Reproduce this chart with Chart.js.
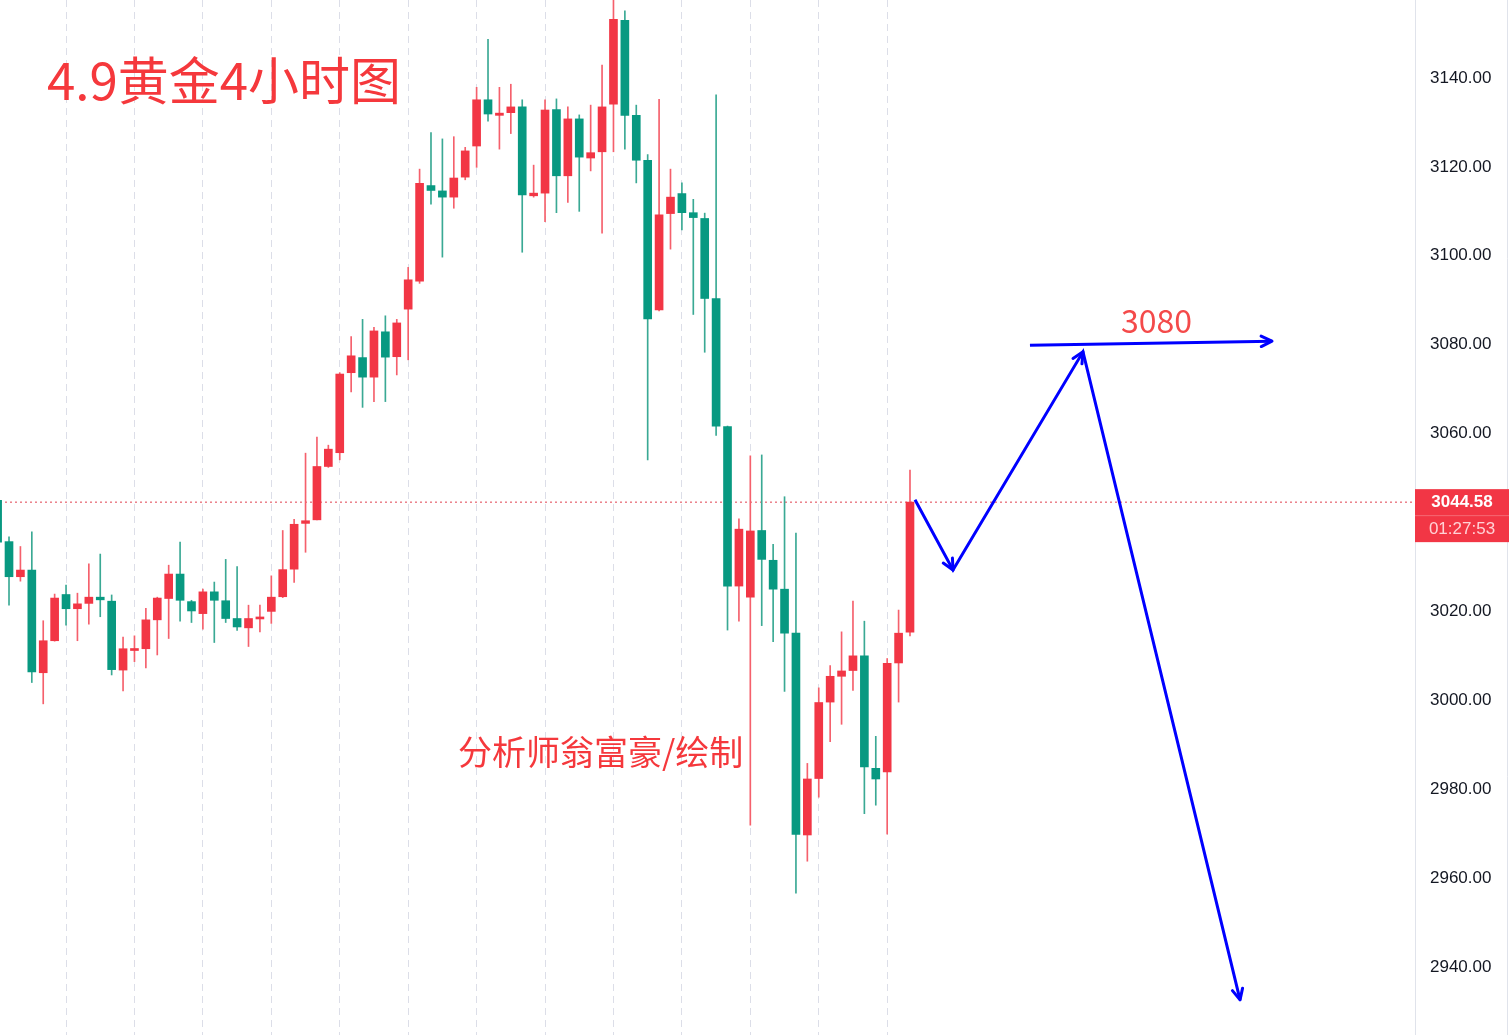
<!DOCTYPE html>
<html>
<head>
<meta charset="utf-8">
<title>4.9黄金4小时图</title>
<script src="https://cdn.jsdelivr.net/npm/chart.js@4.4.1/dist/chart.umd.min.js"></script>
<style>
  html, body { margin: 0; padding: 0; background: #ffffff; }
  #wrap { width: 1509px; height: 1035px; }
</style>
</head>
<body>
<div id="wrap"><canvas id="chart" width="1509" height="1035"></canvas></div>
<script>
// 4h candles (index 0 is the half-cut one on the left edge)
const opens = [
  3045.0, 3035.7, 3027.8, 3029.3, 3006.2, 3013.4, 3023.8, 3020.6, 3021.8, 3023.2,
  3022.3, 3006.8, 3011.2, 3011.6, 3018.1, 3022.9, 3028.4, 3022.2, 3019.5, 3024.4,
  3022.4, 3018.4, 3016.3, 3018.3, 3020.0, 3023.3, 3029.5, 3039.8, 3040.6, 3052.6,
  3055.7, 3073.7, 3077.1, 3072.7, 3082.9, 3077.3, 3088.0, 3094.3, 3115.8, 3114.6,
  3113.2, 3117.7, 3124.7, 3135.1, 3131.6, 3132.2, 3133.5, 3113.5, 3114.1, 3132.9,
  3118.0, 3130.8, 3122.0, 3123.4, 3134.1, 3153.0, 3131.6, 3121.5, 3087.8, 3109.5,
  3114.0, 3109.7, 3108.4, 3090.4, 3061.6, 3025.7, 3023.2, 3038.2, 3031.5, 3025.0,
  3015.1, 2969.7, 2982.4, 2999.6, 3005.4, 3006.7, 3010.0, 2984.7, 2983.9, 3008.4,
  3015.3
];
const highs = [
  3046.0, 3036.8, 3034.6, 3037.9, 3017.9, 3023.9, 3025.9, 3024.1, 3030.7, 3032.9,
  3023.7, 3014.2, 3014.5, 3020.7, 3023.2, 3030.4, 3035.6, 3022.5, 3025.0, 3026.6,
  3031.7, 3030.1, 3021.4, 3021.4, 3028.0, 3038.2, 3040.7, 3055.6, 3059.2, 3057.4,
  3073.7, 3081.8, 3085.7, 3083.9, 3086.5, 3085.7, 3097.4, 3119.5, 3127.7, 3126.3,
  3126.8, 3124.4, 3137.9, 3148.7, 3137.9, 3138.6, 3135.1, 3120.4, 3135.1, 3135.3,
  3133.5, 3131.7, 3133.9, 3142.9, 3158.0, 3155.1, 3133.9, 3122.8, 3135.2, 3119.5,
  3116.4, 3112.7, 3109.6, 3136.2, 3061.7, 3040.8, 3055.0, 3055.2, 3035.1, 3045.8,
  3037.6, 2985.8, 3002.8, 3007.8, 3015.4, 3022.3, 3017.8, 2991.9, 3009.4, 3020.3,
  3051.8
];
const lows = [
  3034.0, 3021.4, 3026.8, 3004.0, 2999.2, 3013.3, 3016.9, 3013.4, 3017.1, 3018.8,
  3005.7, 3002.1, 3008.7, 3007.3, 3010.2, 3013.9, 3017.8, 3017.5, 3016.0, 3013.0,
  3017.5, 3015.7, 3012.1, 3015.4, 3017.3, 3023.1, 3026.5, 3033.3, 3040.6, 3052.4,
  3054.1, 3069.4, 3065.9, 3067.2, 3067.2, 3073.2, 3076.6, 3093.8, 3111.6, 3099.7,
  3110.7, 3117.1, 3119.9, 3130.3, 3124.0, 3127.5, 3100.8, 3113.2, 3107.7, 3109.7,
  3112.0, 3110.0, 3119.1, 3105.1, 3123.4, 3124.0, 3116.4, 3054.1, 3087.6, 3101.5,
  3105.8, 3086.8, 3078.3, 3059.6, 3015.8, 3017.8, 2971.9, 3016.8, 3013.2, 3002.0,
  2956.6, 2963.8, 2978.2, 2990.7, 2994.6, 3002.2, 2974.5, 2976.4, 2969.9, 2999.6,
  3014.5
];
const closes = [
  3035.6, 3027.8, 3029.3, 3006.4, 3013.4, 3023.0, 3020.6, 3021.7, 3023.2, 3022.6,
  3006.9, 3011.6, 3011.6, 3018.1, 3023.0, 3028.4, 3022.5, 3020.1, 3024.4, 3022.5,
  3018.4, 3016.5, 3018.4, 3018.6, 3023.2, 3029.4, 3039.6, 3040.4, 3052.6, 3056.5,
  3073.4, 3077.5, 3072.7, 3083.1, 3077.2, 3084.9, 3094.6, 3116.3, 3114.7, 3113.2,
  3117.5, 3123.6, 3135.1, 3131.9, 3132.1, 3133.5, 3113.7, 3114.1, 3132.8, 3118.0,
  3130.8, 3122.2, 3123.2, 3133.5, 3153.2, 3131.6, 3121.5, 3085.8, 3109.2, 3113.2,
  3109.7, 3108.6, 3090.4, 3061.7, 3025.7, 3038.5, 3038.1, 3031.7, 3025.0, 3015.1,
  2969.8, 2982.3, 2999.5, 3005.4, 3006.6, 3010.0, 2985.0, 2982.3, 3008.3, 3015.1,
  3044.58
];

// price axis ticks and the day separators (candle index)
const yTicks = [2940, 2960, 2980, 3000, 3020, 3040, 3060, 3080, 3100, 3120, 3140];
const daySeps = [6, 12, 18, 24, 30, 36, 42, 48, 54, 60, 66, 72, 78];

// hand-drawn forecast in (candle index, price)
const pathX = [80.44, 83.77, 95.17, 108.94];
const pathY = [3045.1, 3029.3, 3078.4, 2932.6];
const targetX = [90.52, 111.74];
const targetY = [3079.9, 3080.8];

const lastPrice = closes[closes.length - 1];
const countdown = '01:27:53';

const X_MIN = 0.21, X_MAX = 124.28;
const Y_MIN = 2924.7, Y_MAX = 3157.55;

const UP = '#f23645', DOWN = '#089981';
const UP_WICK = '#f5606c', DOWN_WICK = '#3aa994';
const BLUE = '#0000ff';

const idx = opens.map((_, i) => i);
const isUp = i => closes[i] >= opens[i];

function arrow(ctx, a, b, len) {
  const ang = Math.atan2(b.y - a.y, b.x - a.x);
  ctx.beginPath();
  ctx.moveTo(b.x - len * Math.cos(ang - 0.45), b.y - len * Math.sin(ang - 0.45));
  ctx.lineTo(b.x, b.y);
  ctx.lineTo(b.x - len * Math.cos(ang + 0.45), b.y - len * Math.sin(ang + 0.45));
  ctx.stroke();
}

function noPad(s) {
  s.paddingTop = 0;
  s.paddingBottom = 0;
  s.paddingLeft = 0;
  s.paddingRight = 0;
}

const overlay = {
  id: 'overlay',
  afterDatasetsDraw(chart) {
    const ctx = chart.ctx;
    ctx.save();
    ctx.strokeStyle = BLUE;
    ctx.lineWidth = 3;
    ctx.lineCap = 'round';
    ctx.lineJoin = 'round';
    const p = chart.getDatasetMeta(0).data;
    for (let i = 1; i < p.length; i++) arrow(ctx, p[i - 1], p[i], 12);
    const t = chart.getDatasetMeta(1).data;
    arrow(ctx, t[0], t[1], 12);
    ctx.restore();
  },
  afterDraw(chart) {
    const ctx = chart.ctx;
    const y = chart.scales.y;
    const area = chart.chartArea;
    ctx.save();

    // right edge
    ctx.strokeStyle = '#e0e3eb';
    ctx.lineWidth = 1;
    ctx.beginPath();
    ctx.moveTo(1507.5, 0);
    ctx.lineTo(1507.5, chart.height);
    ctx.stroke();

    // texts
    ctx.fillStyle = '#f5383c';
    ctx.textBaseline = 'middle';
    ctx.textAlign = 'left';
    ctx.font = '51px "Noto Sans CJK SC"';
    ctx.fillText('4.9黄金4小时图', 47, 81);
    ctx.font = '34px "Noto Sans CJK SC"';
    ctx.fillText('分析师翁富豪/绘制', 458, 752);
    ctx.fillStyle = '#f44a4a';
    ctx.font = '32px "Noto Sans CJK SC"';
    ctx.fillText('3080', 1121, 321);

    // last price tag
    const py = y.getPixelForValue(lastPrice);
    const left = area.right;
    const w = chart.width - left;
    ctx.fillStyle = UP;
    ctx.fillRect(left, py - 13, w, 53);
    ctx.fillStyle = 'rgba(255,255,255,0.25)';
    ctx.fillRect(left, py + 13, w, 1);
    ctx.textAlign = 'center';
    ctx.fillStyle = '#ffffff';
    ctx.font = 'bold 17px "Liberation Sans"';
    ctx.fillText(lastPrice.toFixed(2), left + w / 2, py + 0.5);
    ctx.fillStyle = '#ffd2d6';
    ctx.font = '17px "Liberation Sans"';
    ctx.fillText(countdown, left + w / 2, py + 27);
    ctx.restore();
  }
};

new Chart(document.getElementById('chart'), {
  type: 'bar',
  data: {
    datasets: [
      {
        type: 'line',
        data: pathX.map((x, i) => ({ x, y: pathY[i] })),
        borderColor: BLUE,
        borderWidth: 3,
        pointRadius: 0,
        tension: 0,
        fill: false
      },
      {
        type: 'line',
        data: targetX.map((x, i) => ({ x, y: targetY[i] })),
        borderColor: BLUE,
        borderWidth: 3,
        pointRadius: 0,
        tension: 0,
        fill: false
      },
      {
        label: 'body',
        data: idx.map(i => ({ x: i, y: [opens[i], closes[i]] })),
        backgroundColor: c => isUp(c.dataIndex) ? UP : DOWN,
        barThickness: 8,
        minBarLength: 2,
        grouped: false,
        borderWidth: 0
      },
      {
        label: 'wick',
        data: idx.map(i => ({ x: i, y: [lows[i], highs[i]] })),
        backgroundColor: c => isUp(c.dataIndex) ? UP_WICK : DOWN_WICK,
        barThickness: 1,
        grouped: false,
        borderWidth: 0
      },
      {
        type: 'line',
        data: [{ x: X_MIN, y: lastPrice }, { x: X_MAX, y: lastPrice }],
        borderColor: '#e0404e',
        borderWidth: 1,
        borderDash: [2, 3],
        pointRadius: 0,
        fill: false
      }
    ]
  },
  options: {
    responsive: false,
    animation: false,
    events: [],
    layout: { padding: 0 },
    plugins: {
      legend: { display: false },
      tooltip: { enabled: false }
    },
    scales: {
      x: {
        type: 'linear',
        min: X_MIN,
        max: X_MAX,
        offset: false,
        grid: { color: '#dcdee8', lineWidth: 1, drawTicks: false, offset: false },
        border: { display: false, dash: [7, 5] },
        ticks: { display: false, includeBounds: false },
        afterBuildTicks(s) { s.ticks = daySeps.map(v => ({ value: v })); },
        afterFit(s) { s.height = 0; noPad(s); }
      },
      y: {
        type: 'linear',
        position: 'right',
        min: Y_MIN,
        max: Y_MAX,
        grid: { display: false, drawTicks: false },
        border: { display: true, color: '#e0e3eb' },
        ticks: {
          padding: 15,
          color: '#131722',
          font: { family: 'Liberation Sans', size: 17 },
          callback: v => v.toFixed(2)
        },
        afterBuildTicks(s) { s.ticks = yTicks.map(v => ({ value: v })); },
        afterFit(s) { s.width = 94; noPad(s); }
      }
    }
  },
  plugins: [overlay]
});
</script>
</body>
</html>
